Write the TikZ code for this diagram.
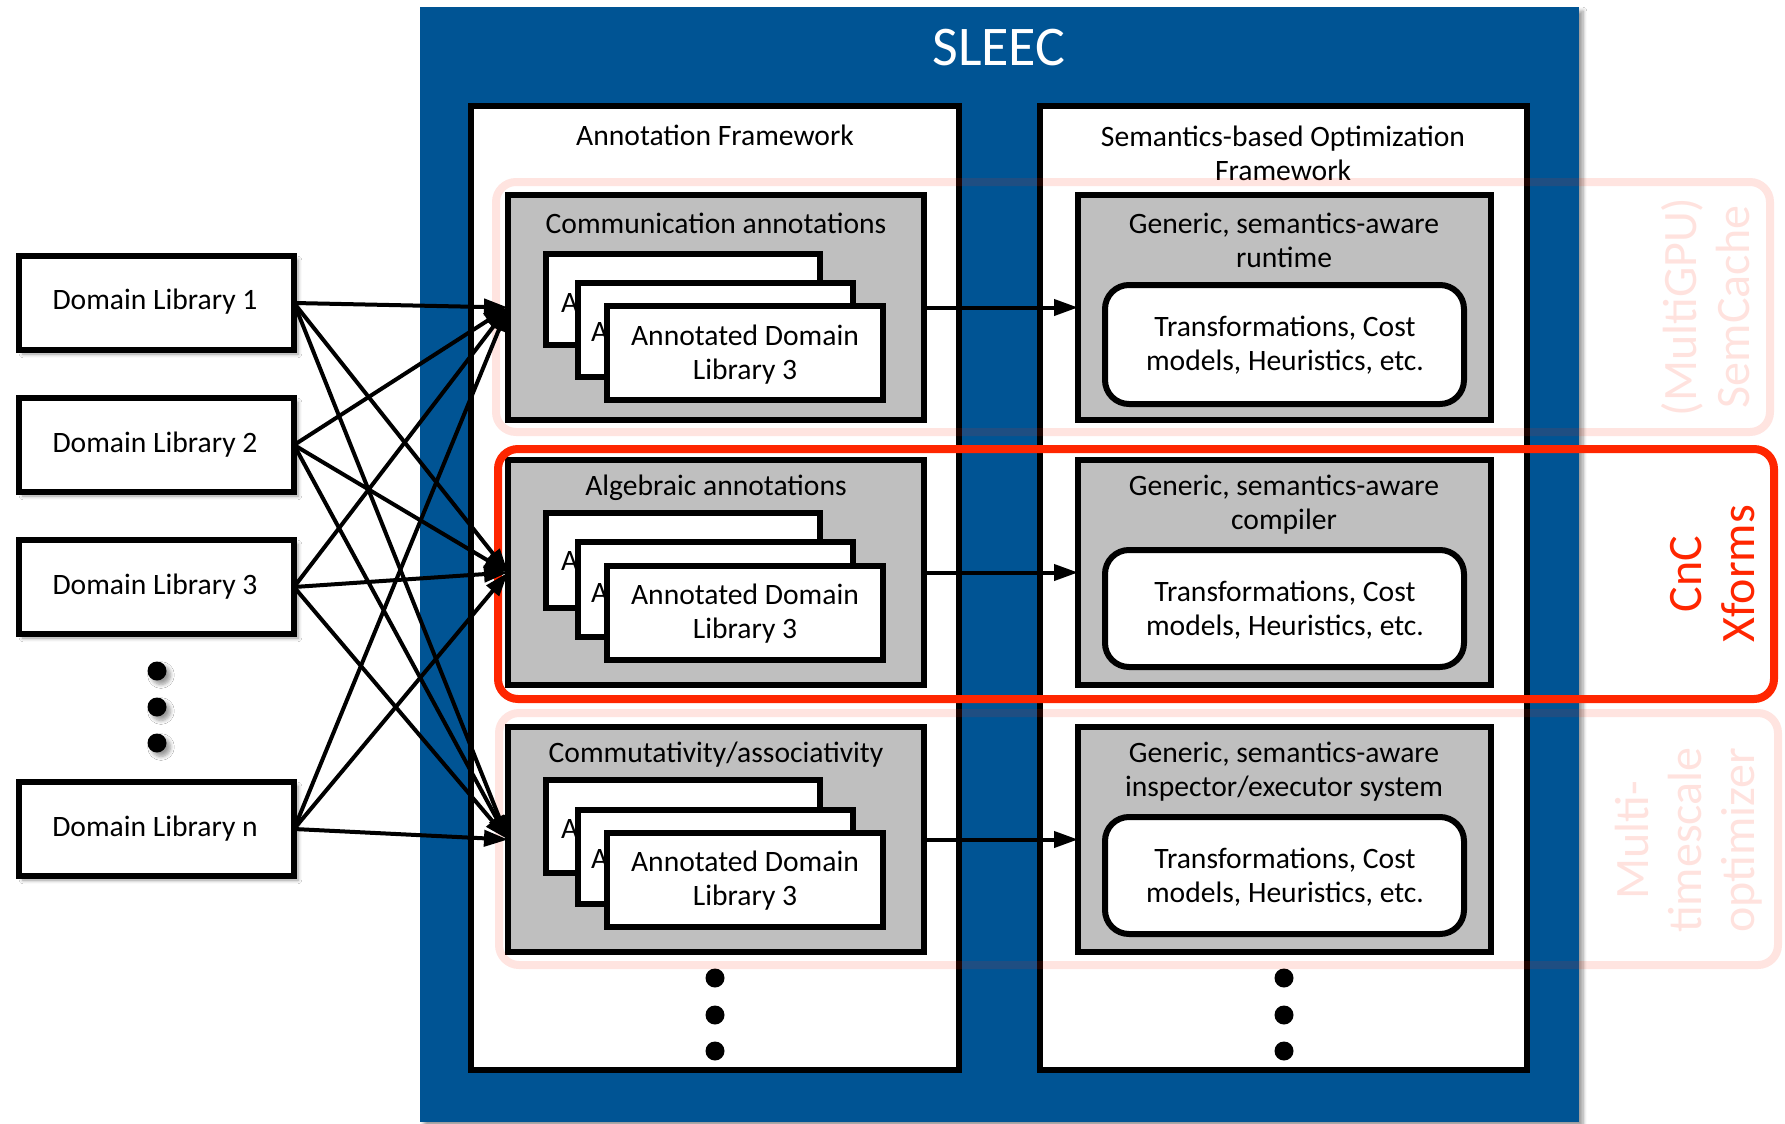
\documentclass[tikz,border=0pt]{standalone}
\usepackage{fontspec}
\setmainfont{Carlito}
\usetikzlibrary{arrows.meta,fit,shadows.blur}
\definecolor{sleecblue}{RGB}{0,84,148}
\definecolor{cncred}{RGB}{255,38,0}
\definecolor{boxgray}{RGB}{191,191,191}
\begin{document}
\begin{tikzpicture}[x=0.5pt,y=-0.5pt,
  every node/.style={inner sep=0pt, outer sep=0pt},
  txt/.style={font=\fontsize{14.8}{17}\selectfont, align=center},
  libbox/.style={draw=black, line width=3pt, fill=white},
  graybox/.style={draw=black, line width=3pt, fill=boxgray},
  framebox/.style={draw=black, line width=3pt, fill=white},
  innerbox/.style={draw=black, line width=3pt, fill=white, rounded corners=12pt},
  stackbox/.style={draw=black, line width=3pt, fill=white},
  conn/.style={line width=2pt, -{Triangle[length=12pt,width=8pt]}},
  dot/.style={circle, fill=black, minimum size=9.5pt},
  pinkframe/.style={draw=cncred, draw opacity=0.12, line width=4pt, rounded corners=10pt},
  redframe/.style={draw=cncred, line width=4pt, rounded corners=10pt},
  sidetxt/.style={font=\fontsize{24}{26.5}\selectfont, align=center, rotate=90},
  shadowed/.style={blur shadow={shadow xshift=2pt, shadow yshift=-2pt, shadow blur steps=6, shadow opacity=40}},
]
\fill[white] (0,0) rectangle (1785,1124);
\useasboundingbox (0,0) rectangle (1785,1124);

% SLEEC container
\node[fill=sleecblue, shadowed, fit={(420,7)(1579,1122)}] (sleec) {};
\node[font=\fontsize{28}{30}\selectfont, text=white] (title) at (999,48) {SLEEC};

% frameworks
\node[framebox, fit={(471,106)(959,1070)}] (af) {};
\node[txt] (aflabel) at (715,135) {Annotation Framework};
\node[framebox, fit={(1040,106)(1527,1070)}] (sf) {};
\node[txt] (sflabel) at (1283,153.5) {Semantics-based Optimization\\Framework};

% left gray boxes
\node[graybox, fit={(508,195)(924,420)}] (gl1) {};
\node[graybox, fit={(508,460)(924,685)}] (gl2) {};
\node[graybox, fit={(508,727)(924,952)}] (gl3) {};
\node[txt] (gl1t) at (716,223) {Communication annotations};
\node[txt] (gl2t) at (716,488) {Algebraic annotations};
\node[txt] (gl3t) at (716,755) {Commutativity/associativity};

% right gray boxes
\node[graybox, fit={(1078,195)(1491,420)}] (gr1) {};
\node[graybox, fit={(1078,460)(1491,685)}] (gr2) {};
\node[graybox, fit={(1078,727)(1491,952)}] (gr3) {};
\node[txt] (gr1t) at (1284,240) {Generic, semantics-aware\\runtime};
\node[txt] (gr2t) at (1284,505) {Generic, semantics-aware\\compiler};
\node[txt] (gr3t) at (1284,772) {Generic, semantics-aware\\inspector/executor system};

% inner rounded boxes
\node[innerbox, fit={(1105,285)(1464,404)}] (ir1) {};
\node[innerbox, fit={(1105,550)(1464,667)}] (ir2) {};
\node[innerbox, fit={(1105,817)(1464,934)}] (ir3) {};
\node[txt] (ir1t) at (1285,345) {Transformations, Cost\\models, Heuristics, etc.};
\node[txt] (ir2t) at (1285,610) {Transformations, Cost\\models, Heuristics, etc.};
\node[txt] (ir3t) at (1285,877) {Transformations, Cost\\models, Heuristics, etc.};

% stacked annotated libraries, row 1
\node[stackbox, fit={(546,254)(820,345)}] (s1a) {};
\node[txt, anchor=base west] (s1at) at (561,312) {A};
\node[stackbox, fit={(578,283)(853,377)}] (s1b) {};
\node[txt, anchor=base west] (s1bt) at (591,341) {A};
\node[stackbox, fit={(607,306)(883,400)}] (s1c) {};
\node[txt] (s1ct) at (745,355) {Annotated Domain\\Library 3};
% row 2
\node[stackbox, fit={(546,513)(820,608)}] (s2a) {};
\node[txt, anchor=base west] (s2at) at (561,570) {A};
\node[stackbox, fit={(578,542)(853,637)}] (s2b) {};
\node[txt, anchor=base west] (s2bt) at (591,602) {A};
\node[stackbox, fit={(607,566)(883,660)}] (s2c) {};
\node[txt] (s2ct) at (745,614) {Annotated Domain\\Library 3};
% row 3
\node[stackbox, fit={(546,780)(820,873)}] (s3a) {};
\node[txt, anchor=base west] (s3at) at (561,838) {A};
\node[stackbox, fit={(578,810)(853,904)}] (s3b) {};
\node[txt, anchor=base west] (s3bt) at (591,868) {A};
\node[stackbox, fit={(607,833)(883,927)}] (s3c) {};
\node[txt] (s3ct) at (745,881) {Annotated Domain\\Library 3};

% continuation dots
\foreach \y [count=\i] in {978,1015,1051} {
  \node[dot] (ldot\i) at (715,\y) {};
  \node[dot] (rdot\i) at (1284,\y) {};
}

% domain libraries
\node[libbox, shadowed, fit={(19,256)(294,350)}] (d1) {};
\node[libbox, shadowed, fit={(19,398)(294,492)}] (d2) {};
\node[libbox, shadowed, fit={(19,540)(294,634)}] (d3) {};
\node[libbox, shadowed, fit={(19,782)(294,876)}] (dn) {};
\node[txt] (d1t) at (155,302) {Domain Library 1};
\node[txt] (d2t) at (155,445) {Domain Library 2};
\node[txt] (d3t) at (155,587) {Domain Library 3};
\node[txt] (dnt) at (155,829) {Domain Library n};
\foreach \y [count=\i] in {671,707,743} {
  \node[dot, shadowed] (ddot\i) at (157,\y) {};
}

% highlight frames
\draw[pinkframe] (496,182) rectangle (1770,432);
\draw[pinkframe] (499,713) rectangle (1778,965);
\draw[redframe] (498,449) rectangle (1774,699);
\node[sidetxt, text=cncred, text opacity=0.13] (semcache) at (1706,307) {(MultiGPU)\\SemCache};
\node[sidetxt, text=cncred] (cnc) at (1713,574) {CnC\\Xforms};
\node[sidetxt, text=cncred, text opacity=0.13] (mto) at (1689,840) {Multi-\\timescale\\optimizer};

% connectors
\foreach \d in {d1,d2,d3,dn} {
  \foreach \g in {gl1,gl2,gl3} {
    \draw[conn] (\d.east) -- (\g.west);
  }
}
\draw[conn] (gl1.east) -- (gr1.west);
\draw[conn] (gl2.east) -- (gr2.west);
\draw[conn] (gl3.east) -- (gr3.west);
\end{tikzpicture}
\end{document}
